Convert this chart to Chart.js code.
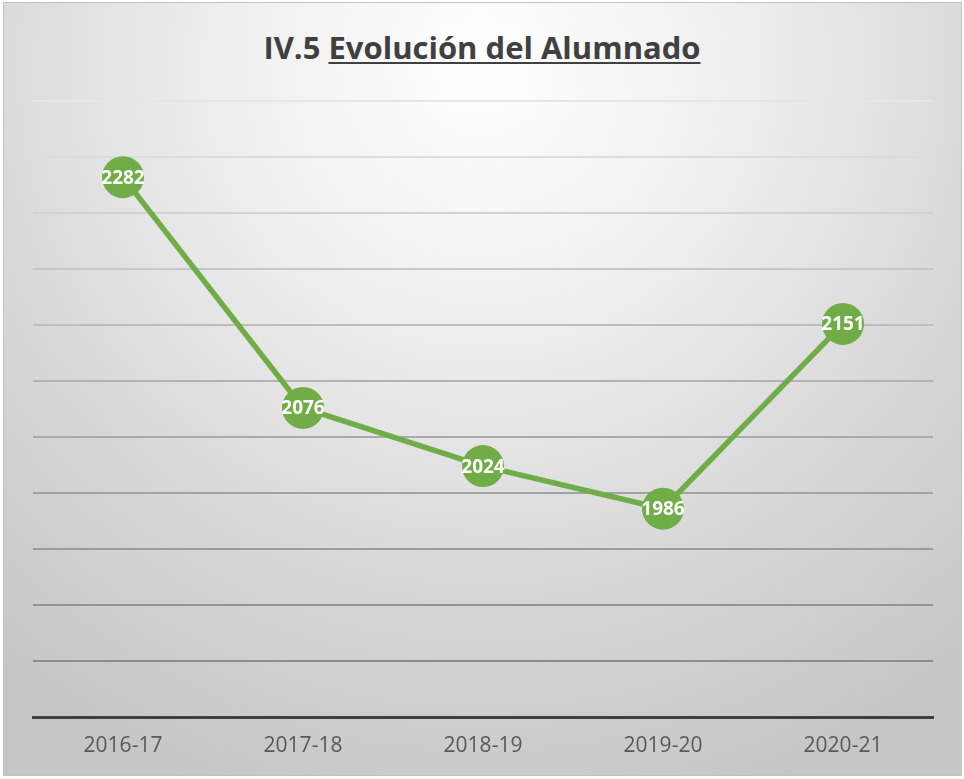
<!DOCTYPE html>
<html>
<head>
<meta charset="utf-8">
<script src="https://cdn.jsdelivr.net/npm/chart.js@4.4.0/dist/chart.umd.min.js"></script>
<style>
  html, body { margin:0; padding:0; width:964px; height:779px; background:#ffffff; overflow:hidden; }
  #frame { position:absolute; left:3px; top:2px; width:957px; height:772px; border:1px solid #c2c2c2;
    background: radial-gradient(ellipse 80% 100% at 50% 8%, #ffffff 0%, #eeeeee 35%, #d6d6d6 70%, #c6c6c6 100%); }
  #title { position:absolute; left:0; top:28px; width:964px; text-align:center; font-family:"Open Sans", sans-serif;
    font-weight:bold; font-size:31px; line-height:38px; color:#404040; }
  #title u { text-decoration-thickness:2px; text-underline-offset:3px; }
  #wrap { position:absolute; left:0; top:0; width:964px; height:779px; }
</style>
</head>
<body>
<div id="frame"></div>
<div id="title">IV.5 <u>Evolución del Alumnado</u></div>
<div id="wrap"><canvas id="c" width="964" height="779"></canvas></div>
<script>
const categories = ["2016-17", "2017-18", "2018-19", "2019-20", "2020-21"];
const alumnado = [2282, 2076, 2024, 1986, 2151];
const yMin = 1800, yMax = 2350, yStep = 50;

const labelPlugin = {
  id: 'pointLabels',
  afterDatasetsDraw(chart) {
    const ctx = chart.ctx;
    const meta = chart.getDatasetMeta(0);
    ctx.save();
    ctx.font = 'bold 19px "Open Sans", sans-serif';
    ctx.fillStyle = '#ffffff';
    ctx.textAlign = 'center';
    ctx.textBaseline = 'middle';
    meta.data.forEach((pt, i) => {
      ctx.fillText(String(chart.data.datasets[0].data[i]), pt.x, pt.y + 1);
    });
    ctx.restore();
  }
};

new Chart(document.getElementById('c'), {
  type: 'line',
  data: {
    labels: categories,
    datasets: [{
      data: alumnado,
      borderColor: '#70AD47',
      backgroundColor: '#70AD47',
      borderWidth: 5.5,
      pointRadius: 21,
      pointHoverRadius: 21,
      pointBorderWidth: 0,
      pointBackgroundColor: '#70AD47',
      tension: 0,
      clip: false
    }]
  },
  options: {
    responsive: false,
    animation: false,
    events: [],
    layout: { padding: { left: 33, right: 31, top: 101, bottom: 0 } },
    plugins: { legend: { display: false }, tooltip: { enabled: false }, title: { display: false } },
    scales: {
      x: {
        offset: true,
        grid: { display: false, drawTicks: false },
        border: { display: true, color: '#404040', width: 3 },
        ticks: { color: '#595959', font: { family: '"Open Sans", sans-serif', size: 21 }, padding: 16, maxRotation: 0 },
        afterFit: s => { s.height = 62; }
      },
      y: {
        min: yMin, max: yMax,
        ticks: { display: false, stepSize: yStep },
        border: { display: false },
        grid: {
          drawTicks: false,
          lineWidth: 2,
          color: (ctx) => {
            const area = ctx.chart.chartArea;
            if (!area) return '#bbbbbb';
            const g = ctx.chart.ctx.createLinearGradient(0, area.top, 0, area.bottom);
            g.addColorStop(0, '#e6e6e6');
            g.addColorStop(0.5, '#aeaeae');
            g.addColorStop(1, '#858585');
            return g;
          }
        },
        afterFit: s => { s.width = 0; }
      }
    }
  },
  plugins: [labelPlugin]
});
</script>
</body>
</html>
